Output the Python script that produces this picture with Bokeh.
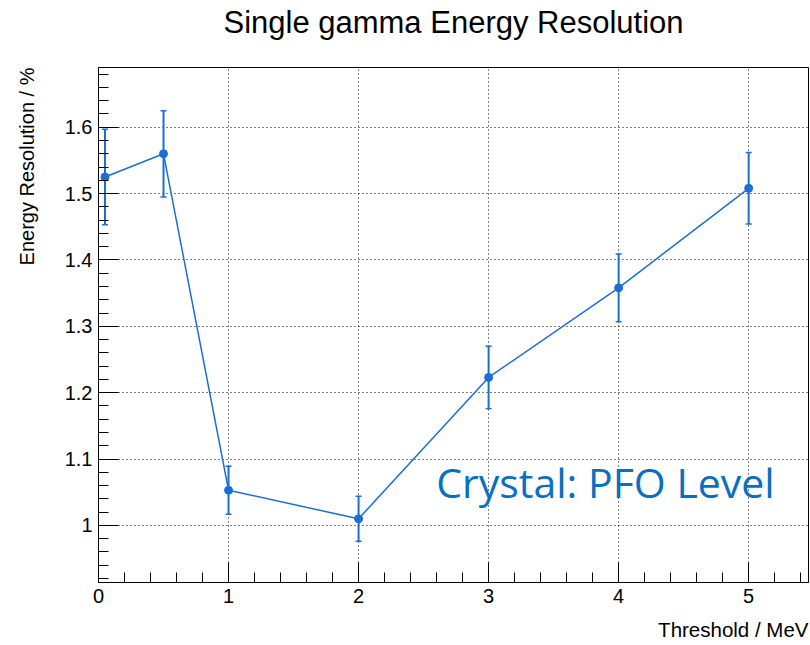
import math
from bokeh.plotting import figure
from bokeh.models import (Label, Whisker, ColumnDataSource, SingleIntervalTicker,
                          CustomJSTickFormatter, TeeHead, Title)
from bokeh.embed import file_html
from bokeh.resources import INLINE

# data
threshold = [0.05, 0.5, 1, 2, 3, 4, 5]
resolution = [1.525, 1.560, 1.053, 1.010, 1.223, 1.358, 1.508]
error = [0.072, 0.065, 0.036, 0.034, 0.047, 0.051, 0.054]

title_text = "Single gamma Energy Resolution"
xlabel_text = "Threshold / MeV"
ylabel_text = "Energy Resolution / %"
note_text = "Crystal: PFO Level"

color = "#1a6fd4"
FONT = "Liberation Sans"

src = ColumnDataSource(dict(
    x=threshold, y=resolution,
    lo=[r - e for r, e in zip(resolution, error)],
    hi=[r + e for r, e in zip(resolution, error)],
))

p = figure(width=810, height=645, x_range=(0, 5.46), y_range=(0.914, 1.69),
           output_backend="svg", toolbar_location=None,
           min_border_left=98, min_border_right=2, min_border_top=67, min_border_bottom=63)
p.background_fill_color = "white"
p.border_fill_color = "white"
p.outline_line_color = "black"
p.outline_line_width = 1


def spacer(size):
    return Title(text=" ", text_font_size="1px", text_color="white", standoff=size)


p.title.text = title_text
p.title.align = "center"
p.title.vertical_align = "top"
p.title.text_font = FONT
p.title.text_font_size = "31px"
p.title.text_font_style = "normal"
p.title.text_color = "black"
p.title.standoff = 0
p.add_layout(spacer(23), "above")

p.add_layout(spacer(7), "below")
p.add_layout(Title(text=xlabel_text, align="right", vertical_align="bottom", text_font=FONT,
                   text_font_size="20.5px", text_font_style="normal", text_color="black",
                   standoff=0), "below")
p.add_layout(spacer(19), "left")
p.add_layout(Title(text=ylabel_text, align="right", vertical_align="top", text_font=FONT,
                   text_font_size="20px", text_font_style="normal", text_color="black",
                   standoff=0), "left")

p.xaxis.ticker = SingleIntervalTicker(interval=1, num_minor_ticks=5)
p.yaxis.ticker = SingleIntervalTicker(interval=0.1, num_minor_ticks=5)
p.yaxis.formatter = CustomJSTickFormatter(code="return (Math.round(tick*10)/10).toString();")
for ax in (p.xaxis, p.yaxis):
    ax.major_tick_in = 20
    ax.major_tick_out = 0
    ax.minor_tick_in = 10
    ax.minor_tick_out = 0
    ax.major_tick_line_color = "black"
    ax.minor_tick_line_color = "black"
    ax.axis_line_color = "black"
    ax.major_label_text_font = FONT
    ax.major_label_text_font_size = "20px"
    ax.major_label_text_color = "black"
p.xaxis.major_label_standoff = 6
p.yaxis.major_label_standoff = 6

p.grid.grid_line_color = "black"
p.grid.grid_line_dash = "1 3"
p.grid.grid_line_width = 1

p.line("x", "y", source=src, line_color=color, line_width=1.5)
w = Whisker(base="x", lower="lo", upper="hi", source=src, line_color=color, line_width=2,
            upper_head=TeeHead(size=6, line_color=color, line_width=1.5),
            lower_head=TeeHead(size=6, line_color=color, line_width=1.5))
p.add_layout(w)
p.scatter("x", "y", source=src, size=8, fill_color=color, line_color=color)

p.add_layout(Label(x=2.597, y=1.066, text=note_text, text_align="left",
                   text_baseline="alphabetic", text_font="Open Sans",
                   text_font_size="41px", text_color="#0a6fc2"))

open("out.html", "w").write(file_html(p, INLINE))
